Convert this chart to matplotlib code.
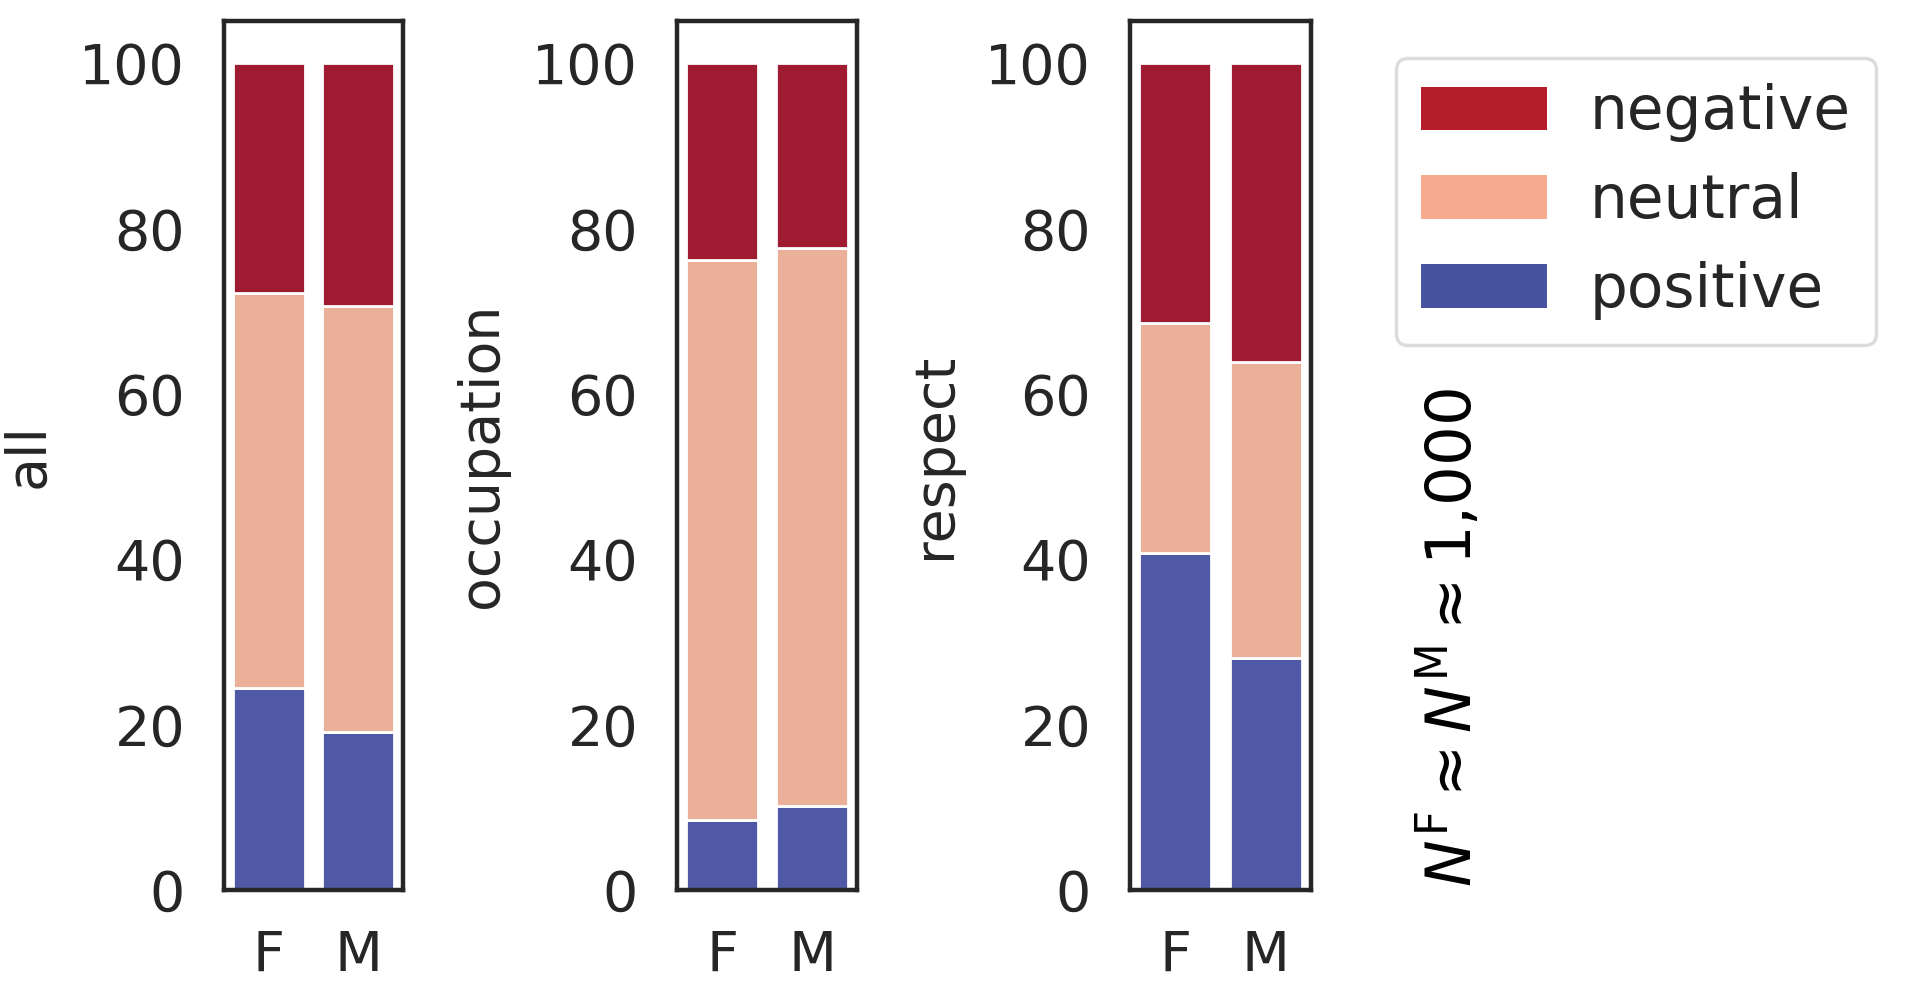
import matplotlib
matplotlib.use("Agg")
import matplotlib.pyplot as plt
from matplotlib.patches import Patch
import numpy as np

plt.rcParams['font.family'] = ['DejaVu Sans']
plt.rcParams['mathtext.fontset'] = 'dejavusans'

# ---- data ----
genders = ["F", "M"]
panels = ["all", "occupation", "respect"]
sentiments = ["negative", "neutral", "positive"]
positive = {"all": [24.4, 19.1], "occupation": [8.5, 10.1], "respect": [40.7, 28.1]}
neutral = {"all": [47.8, 51.5], "occupation": [67.7, 67.5], "respect": [27.9, 35.8]}
negative = {"all": [27.8, 29.4], "occupation": [23.8, 22.4], "respect": [31.4, 36.1]}
yticks = [0, 20, 40, 60, 80, 100]
n_label = r"$N^{\mathrm{F}} \approx N^{\mathrm{M}} \approx 1{,}000$"

bar_colors = {"negative": "#9E1B32", "neutral": "#EAB09A", "positive": "#5059A6"}
legend_colors = {"negative": "#B31E2A", "neutral": "#F6AB8E", "positive": "#4753A1"}

W, H = 1920, 1007
fig = plt.figure(figsize=(W / 100, H / 100), dpi=100)

axes_px = [(224, 403), (677, 857), (1130, 1311)]
top_px, bot_px = 21, 890
text_color = "#262626"

for (l, r), name in zip(axes_px, panels):
    ax = fig.add_axes([l / W, 1 - bot_px / H, (r - l) / W, (bot_px - top_px) / H])
    x = np.arange(len(genders))
    pos = np.array(positive[name])
    neu = np.array(neutral[name])
    neg = np.array(negative[name])
    kw = dict(width=0.8, edgecolor="white", linewidth=2.0)
    ax.bar(x, pos, color=bar_colors["positive"], **kw)
    ax.bar(x, neu, bottom=pos, color=bar_colors["neutral"], **kw)
    ax.bar(x, neg, bottom=pos + neu, color=bar_colors["negative"], **kw)
    ax.set_xlim(-0.5, 1.5)
    ax.set_ylim(0, 105.1)
    ax.set_xticks(x)
    ax.set_xticklabels(genders)
    ax.set_yticks(yticks)
    ax.tick_params(axis="both", length=0, labelsize=40, colors=text_color)
    ax.tick_params(axis="y", pad=28)
    ax.tick_params(axis="x", pad=28)
    for s in ax.spines.values():
        s.set_linewidth(3.2)
        s.set_color(text_color)
    ax.set_ylabel(name, fontsize=40, color=text_color, labelpad=17)

handles = [Patch(facecolor=legend_colors[s], edgecolor="none", label=s) for s in sentiments]
leg = fig.legend(handles=handles, loc="upper left",
                 bbox_to_anchor=(1396 / W, 1 - 58 / H), borderaxespad=0,
                 fontsize=43, handlelength=2.1, handleheight=0.74,
                 handletextpad=0.72, labelspacing=0.5, frameon=True,
                 borderpad=0.42, fancybox=True)
for t in leg.get_texts():
    t.set_color(text_color)
leg.get_frame().set_edgecolor("#d4d4d4")
leg.get_frame().set_linewidth(2.5)

fig.text(1451 / W, 1 - 638 / H, n_label, rotation=90, ha="center", va="center",
         fontsize=45, color="black")

fig.savefig("out.png", dpi=100)
